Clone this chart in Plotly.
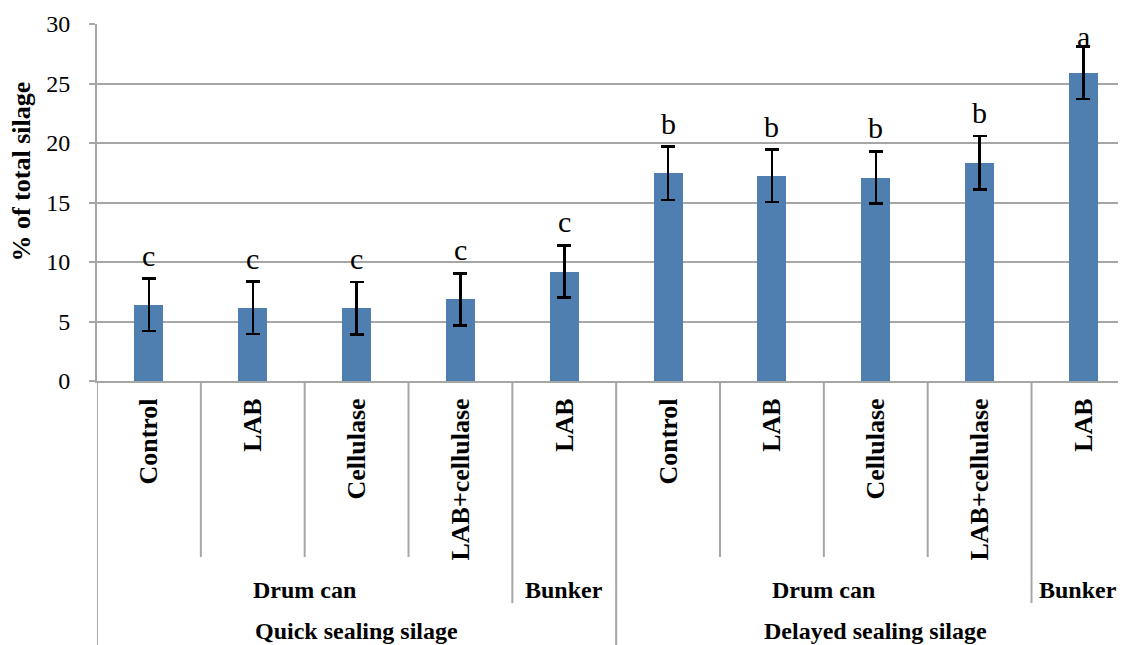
import plotly.graph_objects as go

# ---- data ----
treatments = ["Control", "LAB", "Cellulase", "LAB+cellulase", "LAB",
              "Control", "LAB", "Cellulase", "LAB+cellulase", "LAB"]
containers = ["Drum can", "Bunker", "Drum can", "Bunker"]
container_spans = [(0, 3), (4, 4), (5, 8), (9, 9)]
sealing = ["Quick sealing silage", "Delayed sealing silage"]
sealing_spans = [(0, 4), (5, 9)]
values = [6.4, 6.15, 6.1, 6.85, 9.2, 17.45, 17.25, 17.1, 18.35, 25.9]
errors = [2.2, 2.2, 2.2, 2.2, 2.2, 2.25, 2.2, 2.2, 2.25, 2.2]
letters = ["c", "c", "c", "c", "c", "b", "b", "b", "b", "a"]
y_ticks = [0, 5, 10, 15, 20, 25, 30]

FONT = "Liberation Serif, Times New Roman, serif"
GRID = "#A6A6A6"
BAR = "#4F7EB1"

xs = list(range(len(values)))

fig = go.Figure()
fig.add_trace(go.Bar(
    x=xs, y=values, width=0.28,
    marker=dict(color=BAR, line=dict(width=0)),
    error_y=dict(type="data", array=errors, visible=True,
                 color="black", thickness=2.5, width=7),
    hoverinfo="skip",
))

annotations = []
# significance letters
for i, (v, e, t) in enumerate(zip(values, errors, letters)):
    annotations.append(dict(
        x=i, y=min(v + e, 27.0), xref="x", yref="y", text=t,
        showarrow=False, yanchor="bottom", xanchor="center", yshift=5,
        font=dict(family=FONT, size=30, color="black")))

# container labels
last = len(values) - 1
for name, (a, b) in zip(containers, container_spans):
    annotations.append(dict(
        x=(a + b) / 2, y=-0.585, xref="x", yref="paper", text="<b>%s</b>" % name,
        showarrow=False, xanchor="center", yanchor="middle",
        xshift=-5 if b == last else 0,
        font=dict(family=FONT, size=24, color="black")))

# sealing labels
for name, (a, b) in zip(sealing, sealing_spans):
    annotations.append(dict(
        x=(a + b) / 2, y=-0.70, xref="x", yref="paper", text="<b>%s</b>" % name,
        showarrow=False, xanchor="center", yanchor="middle",
        font=dict(family=FONT, size=24, color="black")))

# y axis title
annotations.append(dict(
    x=-0.0729, y=17.6, xref="paper", yref="y", text="<b>% of total silage</b>",
    textangle=-90, showarrow=False, xanchor="center", yanchor="middle",
    font=dict(family=FONT, size=26, color="black")))

# separators under the category axis
shapes = []
def vline(xv, ybottom):
    shapes.append(dict(type="line", xref="x", yref="paper", x0=xv, x1=xv,
                       y0=0, y1=ybottom, line=dict(color=GRID, width=2)))

for (a, b) in container_spans:
    for k in range(a, b):
        vline(k + 0.5, -0.493)
# boundaries between containers inside a sealing group
vline(3.5, -0.622)
vline(8.5, -0.622)
# boundaries between sealing groups
vline(-0.5, -0.75)
vline(4.5, -0.75)
vline(9.5, -0.75)

# the page body has an 8px default margin, so the figure is shifted by 8px
fig.update_layout(
    width=1118, height=637,
    margin=dict(l=89, r=0, t=16, b=264),
    plot_bgcolor="white", paper_bgcolor="white",
    showlegend=False,
    annotations=annotations,
    shapes=shapes,
    bargap=0,
)
fig.update_xaxes(
    range=[-0.5, 9.41],
    tickmode="array", tickvals=xs,
    ticktext=["<b>%s</b>" % t for t in treatments],
    tickangle=-90, ticks="",
    tickfont=dict(family=FONT, size=26, color="black"),
    ticklabelstandoff=5,
    showline=True, linecolor=GRID, linewidth=2,
    showgrid=False, zeroline=False,
)
fig.update_yaxes(
    range=[0, 30],
    tickmode="array", tickvals=y_ticks,
    ticks="outside", ticklen=6, tickcolor=GRID, tickwidth=2,
    tickfont=dict(family=FONT, size=24, color="black"),
    ticklabelstandoff=14,
    showline=True, linecolor=GRID, linewidth=2,
    showgrid=True, gridcolor=GRID, gridwidth=2,
    zeroline=False,
)

fig.write_html("out.html")
